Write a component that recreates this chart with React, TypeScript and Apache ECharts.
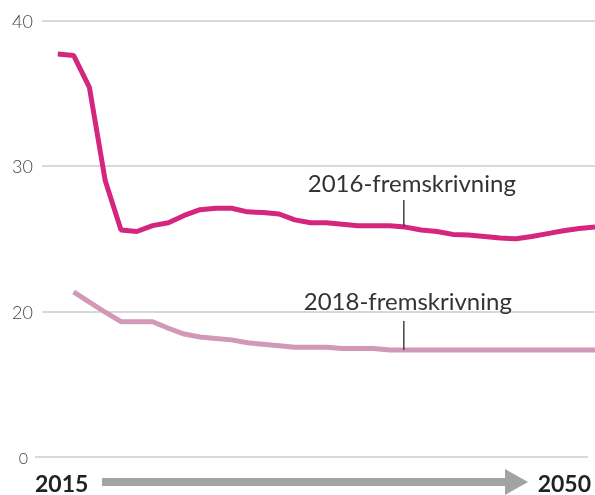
import React, { useEffect, useRef } from "react";
import * as echarts from "echarts";

const years2016 = [
  2016, 2017, 2018, 2019, 2020, 2021, 2022, 2023, 2024, 2025, 2026, 2027,
  2028, 2029, 2030, 2031, 2032, 2033, 2034, 2035, 2036, 2037, 2038, 2039,
  2040, 2041, 2042, 2043, 2044, 2045, 2046, 2047, 2048, 2049, 2050,
];
const values2016 = [
  37.7, 37.6, 35.4, 29.0, 25.6, 25.5, 25.9, 26.1, 26.6, 27.0, 27.1, 27.1,
  26.85, 26.8, 26.7, 26.3, 26.1, 26.1, 26.0, 25.9, 25.9, 25.9, 25.8, 25.6,
  25.5, 25.3, 25.25, 25.15, 25.05, 25.0, 25.15, 25.35, 25.55, 25.7, 25.8,
];
const years2018 = [
  2017, 2018, 2019, 2020, 2021, 2022, 2023, 2024, 2025, 2026, 2027, 2028,
  2029, 2030, 2031, 2032, 2033, 2034, 2035, 2036, 2037, 2038, 2039, 2040,
  2041, 2042, 2043, 2044, 2045, 2046, 2047, 2048, 2049, 2050,
];
const values2018 = [
  21.35, 20.65, 19.95, 19.3, 19.3, 19.3, 18.85, 18.45, 18.25, 18.15, 18.05,
  17.85, 17.75, 17.65, 17.55, 17.55, 17.55, 17.45, 17.45, 17.45, 17.35, 17.35,
  17.35, 17.35, 17.35, 17.35, 17.35, 17.35, 17.35, 17.35, 17.35, 17.35, 17.35,
  17.35,
];
const yTickLabels = ["0", "20", "30", "40"];
const xEndLabels = ["2015", "2050"];
const seriesNames = ["2016-fremskrivning", "2018-fremskrivning"];
const annotationYear = 2037.9;

const COLOR_2016 = "#d4267f";
const COLOR_2018 = "#d198b8";
const FONT = "Lato, 'Open Sans', sans-serif";

export default function App() {
  const ref = useRef<HTMLDivElement>(null);

  useEffect(() => {
    if (!ref.current) return;
    const chart = echarts.init(ref.current, undefined, { renderer: "svg" });
    const option: any = {
      animation: false,
      grid: { left: 42, right: -9, top: 20.5, bottom: 38 },
      xAxis: { type: "value", min: 2015, max: 2050, show: false },
      yAxis: {
        type: "value",
        min: 10,
        max: 40,
        interval: 10,
        axisLine: { show: false },
        axisTick: { show: false },
        splitLine: {
          lineStyle: {
            color: ["rgba(0,0,0,0)", "#cccccc", "#cccccc", "#cccccc"],
            width: 1.5,
          },
        },
        axisLabel: {
          margin: 9,
          fontSize: 18,
          color: "#444",
          fontFamily: FONT,
          fontWeight: 300,
          formatter: (_v: number, i: number) =>
            i === 0 ? "{z|" + yTickLabels[0] + "}" : yTickLabels[i],
          rich: {
            z: {
              fontSize: 16,
              color: "#444",
              fontFamily: FONT,
              fontWeight: 300,
              padding: [0, 5, 0, 0],
            },
          },
        },
      },
      series: [
        {
          name: seriesNames[0],
          type: "line",
          data: years2016.map((y, i) => [y, values2016[i]]),
          showSymbol: false,
          lineStyle: { color: COLOR_2016, width: 5 },
          itemStyle: { color: COLOR_2016 },
          z: 3,
        },
        {
          name: seriesNames[1],
          type: "line",
          data: years2018.map((y, i) => [y, values2018[i]]),
          showSymbol: false,
          lineStyle: { color: COLOR_2018, width: 5 },
          itemStyle: { color: COLOR_2018 },
          z: 2,
        },
      ],
    };
    chart.setOption(option);

    const interp = (xs: number[], vs: number[], x: number) => {
      for (let i = 0; i < xs.length - 1; i++) {
        if (x >= xs[i] && x <= xs[i + 1]) {
          const t = (x - xs[i]) / (xs[i + 1] - xs[i]);
          return vs[i] + t * (vs[i + 1] - vs[i]);
        }
      }
      return vs[vs.length - 1];
    };
    const a1 = chart.convertToPixel({ gridIndex: 0 }, [
      annotationYear,
      interp(years2016, values2016, annotationYear),
    ]) as number[];
    const a2 = chart.convertToPixel({ gridIndex: 0 }, [
      annotationYear,
      interp(years2018, values2018, annotationYear),
    ]) as number[];
    const base = chart.convertToPixel({ gridIndex: 0 }, [2015, 10]) as number[];
    const baseY = base[1];

    const annots = [
      { p: a1, name: seriesNames[0], lead: 27, textDy: 44, textDx: 8 },
      { p: a2, name: seriesNames[1], lead: 29, textDy: 50, textDx: 4 },
    ];

    const graphic: any[] = [
      {
        type: "line",
        shape: { x1: 35, y1: baseY, x2: 588, y2: baseY },
        style: { stroke: "#cccccc", lineWidth: 1.5 },
      },
      {
        type: "rect",
        shape: { x: 102, y: 478, width: 405, height: 8 },
        style: { fill: "#a3a3a3" },
      },
      {
        type: "polygon",
        shape: { points: [[505, 469], [528, 482], [505, 495]] },
        style: { fill: "#a3a3a3" },
      },
      {
        type: "text",
        x: 35,
        y: 494,
        style: {
          text: xEndLabels[0],
          fontSize: 23,
          lineHeight: 23,
          fontWeight: "bold",
          fontFamily: FONT,
          fill: "#222",
          textAlign: "left",
          textVerticalAlign: "bottom",
        },
      },
      {
        type: "text",
        x: 591,
        y: 494,
        style: {
          text: xEndLabels[1],
          fontSize: 23,
          lineHeight: 23,
          fontWeight: "bold",
          fontFamily: FONT,
          fill: "#222",
          textAlign: "right",
          textVerticalAlign: "bottom",
        },
      },
    ];
    annots.forEach((a) => {
      graphic.push({
        type: "line",
        shape: { x1: a.p[0], y1: a.p[1] - a.lead, x2: a.p[0], y2: a.p[1] },
        style: { stroke: "#444", lineWidth: 1.5 },
        z: 10,
      });
      graphic.push({
        type: "text",
        x: a.p[0] + a.textDx,
        y: a.p[1] - a.textDy,
        style: {
          text: a.name,
          fontSize: 24,
          fontWeight: "normal",
          fontFamily: FONT,
          fill: "#333",
          textAlign: "center",
          textVerticalAlign: "middle",
        },
        z: 10,
      });
    });
    chart.setOption({ graphic });

    return () => chart.dispose();
  }, []);

  return (
    <div
      ref={ref}
      style={{ position: "fixed", left: 0, top: 0, width: 595, height: 495 }}
    />
  );
}
